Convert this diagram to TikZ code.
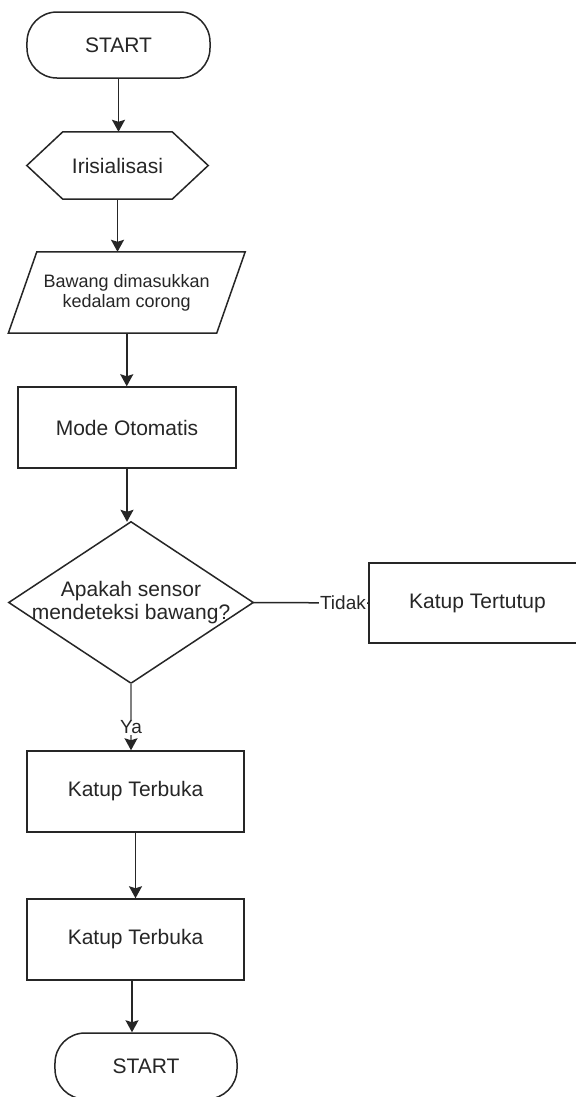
\documentclass[tikz,border=0pt]{standalone}
\usepackage{fontspec}
\setmainfont{Liberation Sans}
\usetikzlibrary{arrows.meta,calc}
\begin{document}
\begin{tikzpicture}[x=1bp,y=-1bp,
  every node/.style={font=\fontsize{21bp}{23bp}\selectfont, text=black!85, inner sep=0pt},
  ln/.style={line width=1.5bp, draw=black!85},
  arr/.style={ln, -{Stealth[length=12bp,width=13bp,inset=2bp]}},
  boxnode/.style={draw=black!85, line width=1.5bp, minimum width=217bp, minimum height=81bp},
  termnode/.style={draw=black!85, line width=1.5bp, rounded corners=30bp, minimum width=183bp, minimum height=66bp},
  lbl/.style={fill=white, font=\fontsize{19bp}{21bp}\selectfont, inner sep=1bp}
]
\useasboundingbox (0,0) rectangle (576,1097);
\fill[white] (0,0) rectangle (576,1097);
\clip (0,0) rectangle (576,1097);

% nodes
\node[termnode] (st) at (118.5,45) {START};
\node[minimum width=181bp, minimum height=67bp] (init) at (117.5,165.5) {Irisialisasi};
\draw[ln] (init.west) -- ([xshift=36bp]init.north west) -- ([xshift=-36bp]init.north east)
  -- (init.east) -- ([xshift=-36bp]init.south east) -- ([xshift=36bp]init.south west) -- cycle;
\node[minimum width=208bp, minimum height=81bp, align=center,
      font=\fontsize{18bp}{20bp}\selectfont] (inp) at (126.75,292.5) {Bawang dimasukkan\\kedalam corong};
\draw[ln] ([xshift=14.25bp]inp.north west) -- ([xshift=14.25bp]inp.north east)
  -- ([xshift=-14.25bp]inp.south east) -- ([xshift=-14.25bp]inp.south west) -- cycle;
\node[boxnode, minimum width=218bp] (mode) at (127,427.5) {Mode Otomatis};
\node[minimum width=244bp, minimum height=161bp, align=center] (dec) at (131,602.5) {Apakah sensor\\mendeteksi bawang?};
\draw[ln] (dec.north) -- (dec.east) -- (dec.south) -- (dec.west) -- cycle;
\node[boxnode, minimum height=80bp] (tutup) at (477.5,603) {Katup Tertutup};
\node[boxnode] (b1) at (135.5,791.5) {Katup Terbuka};
\node[boxnode] (b2) at (135.5,939.5) {Katup Terbuka};
\node[termnode, minimum width=182bp] (en) at (146,1066) {START};

% connectors
\draw[arr] (st.south) -- (st.south |- init.north);
\draw[arr] (init.south) -- (init.south |- inp.north);
\draw[arr] (inp.south) -- (inp.south |- mode.north);
\draw[arr] (mode.south) -- (mode.south |- dec.north);
\draw[ln] (dec.east) -- (tutup.west) node[lbl, pos=0.78] {Tidak};
\draw[line width=1.5bp, draw=gray, -{Stealth[length=12bp,width=13bp,inset=2bp,color=black!85]}]
  (dec.south) -- (dec.south |- b1.north) node[lbl, pos=0.66] {Ya};
\draw[arr] (b1.south) -- (b2.north);
\draw[arr] ([xshift=-3.5bp]b2.south) -- ([xshift=-3.5bp]b2.south |- en.north);
\end{tikzpicture}
\end{document}
